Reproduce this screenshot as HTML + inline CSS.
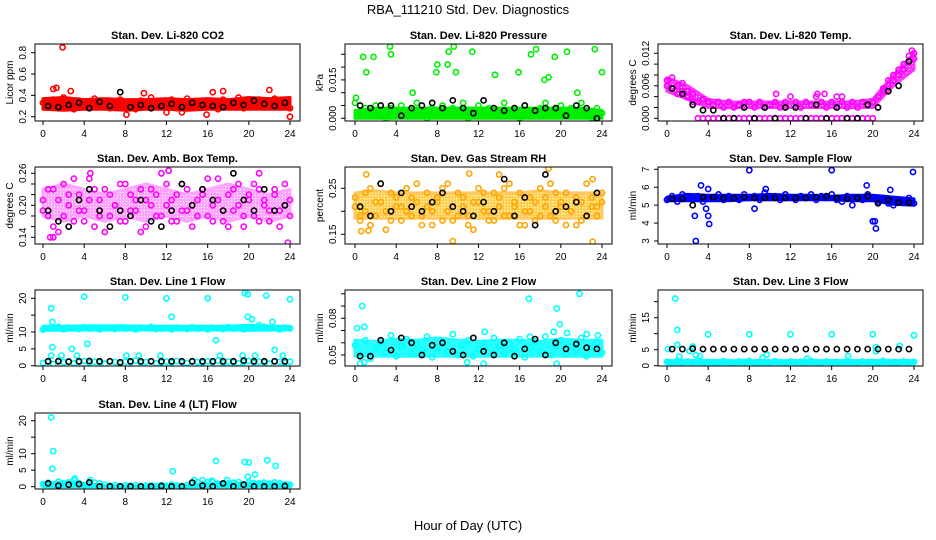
<!DOCTYPE html>
<html><head><meta charset="utf-8"><style>
html,body{margin:0;padding:0;background:#fff;width:936px;height:540px;overflow:hidden}
svg{display:block;font-family:"Liberation Sans",Arial,sans-serif}
</style></head><body>
<svg id="chart" width="936" height="540" viewBox="0 0 936 540" xmlns="http://www.w3.org/2000/svg">
<rect width="936" height="540" fill="#fff"/>
<text x="468" y="14" text-anchor="middle" font-size="13">RBA_111210  Std. Dev. Diagnostics</text>
<text x="468" y="530" text-anchor="middle" font-size="13">Hour of Day (UTC)</text>
</svg>
<script>
// ---- data ----
const xTickVals = [0,4,8,12,16,20,24];
const co2Pts = [0.33,0.30,0.36,0.28,0.38,0.31,0.27,0.35,0.33,0.29,0.37,0.30,0.34,0.28,0.32,0.36,0.30,0.33,0.27,0.35,0.31,0.38,0.29,0.34,0.30,0.36,0.28,0.33,0.37,0.30,0.32,0.29,0.35,0.31,0.27,0.36,0.33,0.30,0.38,0.28,0.34,0.31,0.36,0.29,0.33,0.37,0.30,0.35,0.28];
const co2Lo = [0.27,0.26,0.27,0.27,0.26,0.27,0.27,0.26,0.27,0.27,0.27,0.27,0.27];
const co2Hi = [0.37,0.38,0.36,0.37,0.36,0.36,0.37,0.36,0.37,0.36,0.38,0.37,0.38];
const co2Blk = [0.30,0.29,0.31,0.33,0.28,0.34,0.30,0.43,0.29,0.31,0.28,0.30,0.32,0.29,0.33,0.31,0.30,0.29,0.33,0.31,0.35,0.32,0.30,0.33];
const co2Out = [[1.9,0.85],[1.0,0.46],[1.3,0.47],[2.7,0.44],[8.1,0.22],[9.8,0.42],[12,0.24],[13.5,0.24],[15.9,0.22],[16.5,0.43],[17.5,0.44],[22,0.45],[24,0.20]];

const pressPts = [0.006,0.002,0.004,0.001,0.005,0.003,0.000,0.004,0.002,0.005,0.001,0.003,0.006,0.002,0.000,0.004,0.003,0.005,0.001,0.004,0.002,0.006,0.000,0.003,0.005,0.002,0.004,0.001,0.003,0.006,0.002,0.004,0.000,0.005,0.003,0.001,0.004,0.006,0.002,0.003,0.005,0.001,0.004,0.002,0.006,0.003,0.000,0.004,0.002];
const pressLo = [0,0,0,0,0,0,0,0,0,0,0,0,0];
const pressHi = [0.003,0.004,0.004,0.004,0.004,0.004,0.004,0.004,0.004,0.004,0.004,0.004,0.003];
const pressBlk = [0.005,0.004,0.005,0.005,0.001,0.004,0.005,0.006,0.004,0.007,0.004,0.002,0.007,0.004,0.003,0.004,0.005,0.003,0.004,0.004,0.001,0.005,0.004,0.000];
const pressOut = [[0.8,0.024],[1.1,0.018],[1.8,0.024],[3.4,0.028],[3.5,0.025],[7.9,0.018],[8.0,0.021],[9.1,0.026],[9.0,0.021],[9.6,0.028],[9.8,0.018],[11.4,0.026],[13.6,0.017],[15.9,0.018],[17.1,0.025],[17.6,0.027],[18.4,0.015],[18.8,0.016],[19.4,0.024],[20.6,0.026],[21.6,0.010],[23.3,0.027],[24,0.018],[0.1,0.008],[5.6,0.010]];

const tempPts = [0.007,0.0075,0.006,0.0065,0.005,0.0045,0.003,0.0035,0.003,0.0025,0.003,0.002,0.003,0.002,0.0025,0.003,0.003,0.002,0.003,0.002,0.0025,0.003,0.002,0.003,0.004,0.003,0.002,0.003,0.0025,0.004,0.003,0.002,0.003,0.004,0.003,0.002,0.003,0.002,0.003,0.0025,0.003,0.004,0.0055,0.007,0.008,0.009,0.010,0.0115,0.012];
const tempPts2 = [0.006,0.0055,0.0045,0.005,0.004,0.003,0,0,0,0,0,0,0,0,0,0,0,0,0,0,0,0,0,0,0,0,0,0,0,0,0,0,0,0,0,0,0,0,0,0,0,0.002,0.005,0.006,0.007,0.008,0.009,0.0105,0.011];
const tempLo = [0.005,0.0035,0.002,0.002,0.002,0.002,0.002,0.002,0.002,0.002,0.002,0.006,0.009];
const tempHi = [0.0075,0.006,0.0035,0.003,0.003,0.003,0.003,0.003,0.003,0.003,0.0035,0.008,0.012];
const tempBlk = [0.0055,0.0045,0.0025,0.0015,0.0015,0,0,0.002,0,0.002,0,0.002,0.002,0,0.0025,0,0.002,0,0,0.0025,0.002,0.005,0.006,0.0105];
const tempOut = [[10.6,0.0045],[14.6,0.0045],[15.3,0.0045],[17.0,0.004],[23.8,0.0125]];

const ambPts = [0.21,0.18,0.23,0.15,0.24,0.20,0.17,0.22,0.19,0.25,0.16,0.21,0.23,0.18,0.20,0.24,0.17,0.22,0.19,0.15,0.21,0.23,0.18,0.26,0.20,0.17,0.22,0.24,0.19,0.16,0.21,0.23,0.18,0.20,0.25,0.17,0.22,0.19,0.24,0.16,0.21,0.18,0.23,0.20,0.17,0.22,0.19,0.24,0.21];
const ambPts2 = [0.19,0.23,0.16,0.21,0.18,0.22,0.25,0.19,0.17,0.21,0.23,0.18,0.15,0.22,0.20,0.17,0.24,0.19,0.21,0.23,0.16,0.20,0.22,0.18,0.24,0.21,0.17,0.19,0.23,0.20,0.18,0.22,0.25,0.17,0.21,0.19,0.16,0.23,0.20,0.18,0.22,0.24,0.17,0.21,0.19,0.23,0.16,0.20,0.18];
const ambLo = [0.18,0.17,0.18,0.17,0.18,0.17,0.18,0.17,0.18,0.17,0.18,0.17,0.18];
const ambHi = [0.23,0.24,0.23,0.22,0.23,0.24,0.23,0.22,0.23,0.24,0.23,0.22,0.23];
const ambBlk = [0.19,0.17,0.16,0.21,0.23,0.19,0.16,0.19,0.18,0.21,0.17,0.16,0.19,0.24,0.20,0.23,0.21,0.19,0.26,0.21,0.19,0.23,0.19,0.20];
const ambOut = [[0.7,0.14],[1.0,0.14],[4.6,0.26],[12.2,0.265],[21,0.26],[23.8,0.13]];

const rhPts = [0.21,0.19,0.24,0.17,0.22,0.26,0.20,0.18,0.23,0.21,0.25,0.19,0.22,0.17,0.24,0.20,0.23,0.18,0.26,0.21,0.19,0.23,0.17,0.22,0.25,0.20,0.18,0.24,0.21,0.19,0.26,0.22,0.17,0.20,0.23,0.18,0.25,0.21,0.19,0.24,0.22,0.17,0.20,0.23,0.18,0.26,0.21,0.19,0.22];
const rhPts2 = [0.23,0.18,0.20,0.25,0.19,0.22,0.16,0.24,0.21,0.18,0.20,0.23,0.26,0.19,0.21,0.17,0.22,0.25,0.20,0.18,0.24,0.21,0.19,0.16,0.22,0.24,0.20,0.18,0.23,0.25,0.19,0.21,0.24,0.17,0.20,0.22,0.19,0.23,0.26,0.18,0.21,0.24,0.20,0.17,0.22,0.19,0.23,0.21,0.24];
const rhLo = [0.185,0.185,0.185,0.185,0.185,0.185,0.185,0.185,0.185,0.185,0.185,0.185,0.185];
const rhHi = [0.24,0.245,0.24,0.24,0.24,0.24,0.24,0.24,0.24,0.245,0.24,0.24,0.24];
const rhBlk = [0.21,0.19,0.26,0.20,0.24,0.21,0.20,0.22,0.24,0.21,0.20,0.19,0.22,0.20,0.27,0.19,0.23,0.17,0.28,0.20,0.21,0.22,0.19,0.24];
const rhOut = [[0.6,0.157],[1.1,0.28],[1.3,0.158],[9.5,0.135],[11.1,0.282],[18.8,0.293],[23.1,0.134],[23.1,0.27],[14.0,0.28]];

const flowPts = [5.3,5.5,5.2,5.6,5.4,5.3,5.5,5.2,4.4,5.4,5.6,5.3,5.5,5.4,5.3,5.6,5.4,5.5,5.3,5.7,5.4,5.5,5.3,5.6,5.4,5.3,5.5,5.4,5.6,5.3,5.5,5.4,5.6,5.3,5.2,5.5,5.0,5.4,5.3,5.6,4.1,5.2,5.4,5.1,5.0,5.3,5.2,5.4,5.1];
const flowLo = [5.25,5.25,5.25,5.25,5.3,5.3,5.3,5.3,5.3,5.25,5.25,5.05,5.0];
const flowHi = [5.45,5.6,5.55,5.55,5.55,5.6,5.55,5.55,5.5,5.55,5.55,5.45,5.35];
const flowBlk = [5.35,5.35,5.0,5.45,5.45,5.4,5.4,5.45,5.4,5.4,5.4,5.4,5.4,5.4,5.45,5.5,5.4,5.35,5.4,5.5,5.1,5.3,5.15,5.15];
const flowOut = [[2.8,3.0],[2.7,4.4],[3.3,6.1],[4.1,3.95],[8.0,6.95],[16.0,6.95],[23.9,6.85],[20.2,4.1],[20.3,3.7],[19.4,6.1],[21.7,5.85],[3.8,4.8],[8.5,4.8],[4,5.9],[9.6,5.9]];

const l1Pts = [10.7,11.2,11.0,11.5,10.8,11.3,11.1,10.9,11.4,11.0,11.2,10.8,11.3,11.1,10.9,11.4,11.0,11.2,10.8,11.3,11.1,11.5,10.9,11.0,11.2,10.8,11.3,11.1,10.9,11.4,11.0,11.2,10.8,11.3,11.1,10.9,11.4,11.0,11.2,10.8,11.3,11.1,12.0,11.5,11.0,11.2,10.8,11.3,11.1];
const l1Low = [0.8,1.2,0.5,1.5,1.0,1.3,0.7,1.1,1.4,0.9,1.2,1.0,0.6,1.3,1.1,0.8,1.2,1.0,1.5,0.9,1.1,1.3,0.7,1.0,1.2,0.9,1.4,1.0,0.8,1.2,1.1,0.9,1.3,1.0,1.5,0.8,1.2,1.0,0.7,1.1,1.4,0.9,1.2,1.0,0.6,1.3,1.1,0.8,1.2];
const l1Lo = [10.5,10.5,10.6,10.6,10.6,10.6,10.6,10.6,10.6,10.6,10.5,10.6,10.6];
const l1Hi = [11.7,11.7,11.8,11.8,11.8,11.7,11.7,11.7,11.7,11.7,12.0,11.7,11.7];
const l1Blk = [1.3,1.3,1.2,1.3,1.4,1.3,1.3,1.0,1.3,1.3,1.3,1.3,1.3,1.3,1.3,1.3,1.3,1.3,1.3,1.5,1.3,1.3,1.3,1.3];
const l1Out = [[0.8,17],[0.9,13],[0.9,5.5],[0.8,3],[1.8,3],[2.8,5],[3.3,3],[4,20.5],[4.3,6.5],[8,20.3],[8.1,3],[9.3,3],[11.4,3],[12,20],[12.5,14.5],[16,20],[16.8,7.5],[17.2,3],[19.4,3],[19.6,21.5],[19.9,21.2],[19.9,14.5],[20.3,13.8],[20.6,3],[21.7,20.8],[22.3,13],[22.5,4.7],[23.3,3],[24,19.7]];

const l2Pts = [0.058,0.050,0.062,0.047,0.055,0.060,0.052,0.066,0.049,0.057,0.063,0.051,0.059,0.054,0.065,0.048,0.056,0.061,0.053,0.067,0.050,0.058,0.062,0.049,0.055,0.060,0.052,0.064,0.057,0.051,0.059,0.054,0.063,0.048,0.056,0.061,0.053,0.065,0.050,0.058,0.062,0.051,0.057,0.054,0.064,0.049,0.056,0.060,0.052];
const l2Lo = [0.049,0.049,0.049,0.049,0.049,0.049,0.049,0.049,0.049,0.049,0.049,0.049,0.049];
const l2Hi = [0.062,0.061,0.063,0.062,0.064,0.062,0.061,0.062,0.062,0.061,0.063,0.062,0.062];
const l2Blk = [0.049,0.049,0.062,0.054,0.064,0.060,0.050,0.058,0.060,0.053,0.050,0.064,0.053,0.050,0.060,0.049,0.055,0.063,0.050,0.060,0.055,0.059,0.056,0.055];
const l2Out = [[0.2,0.072],[0.7,0.09],[0.9,0.073],[0.5,0.043],[0.9,0.044],[10.9,0.044],[12.5,0.043],[12.6,0.069],[16.9,0.096],[17,0.065],[19.3,0.069],[19.6,0.088],[19.6,0.043],[19.9,0.075],[20.6,0.068],[21.8,0.1],[22.5,0.067],[23.6,0.066]];

const l3Pts = [1.2,0.9,1.5,0.8,1.3,1.0,1.6,0.7,1.2,1.1,0.9,1.4,1.0,0.8,1.3,1.1,1.5,0.9,1.2,1.0,0.8,1.4,1.1,0.9,1.3,1.0,1.2,0.8,1.5,1.1,0.9,1.3,1.0,1.2,0.7,1.4,1.1,0.9,1.3,1.0,1.2,0.8,1.5,1.0,1.1,0.9,1.3,1.0,1.2];
const l3Lo = [0.6,0.6,0.6,0.6,0.6,0.6,0.6,0.6,0.6,0.6,0.6,0.6,0.6];
const l3Hi = [1.6,1.6,1.6,1.6,1.6,1.6,1.6,1.6,1.6,1.6,1.6,1.6,1.6];
const l3Blk = [5.2,5.2,5.3,5.2,5.2,5.2,5.2,5.2,5.2,5.2,5.2,5.2,5.2,5.2,5.2,5.2,5.2,5.2,5.2,5.2,5.2,5.2,5.2,5.2];
const l3Out = [[0.8,21],[1,11.2],[1,6.5],[1.2,2.8],[2.5,6],[2.8,3.3],[3.2,3],[4,9.8],[8,9.8],[9.3,2.5],[9.7,3.5],[12,9.8],[13.6,2.2],[16,9.8],[17.6,3],[20,9.8],[20.3,4.5],[20.3,5.8],[22.6,6.2],[24,9.5],[0.1,5.2],[2.2,4.6]];

const l4Pts = [0.8,1.2,0.5,1.5,1.0,1.3,2.0,1.1,0.4,0.9,1.2,1.0,0.6,0.3,0.5,0.2,0.4,0.3,0.5,0.2,0.3,0.4,0.2,0.5,0.3,0.6,0.4,0.2,0.5,1.2,1.4,0.8,1.3,1.5,0.9,0.7,1.0,1.2,1.4,0.8,1.3,1.1,1.0,1.2,0.9,1.3,1.1,0.8,0.6];
const l4Lo = [0,0,0,0,0,0,0,0,0,0,0,0,0];
const l4Hi = [1.2,1.3,1.0,0.4,0.3,0.3,0.4,0.4,1.0,1.0,1.1,1.1,0.8];
const l4Blk = [1.0,0.3,0.6,0.8,1.3,0.1,0.1,0.1,0.1,0.1,0.1,0.2,0.1,0.1,1.2,0.3,0.1,1.0,0.1,0.6,0.1,0.1,0.1,0.2];
const l4Out = [[0.8,21],[1,10.8],[0.9,5.5],[3.1,2.5],[4.6,2],[12.6,4.7],[14.7,2],[15.5,2],[16.4,1.8],[16.8,7.8],[17.9,2],[19.6,7.5],[20,7.3],[19.9,3],[20.6,3.7],[21.8,8],[22.6,6.3]];

// ---- rendering ----
const NS = 'http://www.w3.org/2000/svg';
const svg = document.getElementById('chart');
function mk(tag, attrs, parent){ const e=document.createElementNS(NS,tag); for(const k in attrs) e.setAttribute(k,attrs[k]); (parent||svg).appendChild(e); return e; }

const defs = mk('defs',{});
const pat = mk('pattern',{id:'dots',width:3,height:3,patternUnits:'userSpaceOnUse'},defs);
mk('rect',{width:3,height:3,fill:'#ffa500'},pat);
mk('rect',{width:1.5,height:1.5,fill:'#ffff00'},pat);
const pat2 = mk('pattern',{id:'pdots',width:3,height:3,patternUnits:'userSpaceOnUse'},defs);
mk('rect',{width:3,height:3,fill:'#ff00ff'},pat2);
mk('rect',{width:1,height:1,fill:'#ffffff'},pat2);

const COLS = [[35,300,43,290],[345,612,355,602],[658,923,667,914]];
const ROWS = [[44,121],[167,244],[290,366],[413,489]];

const panels = [
 {id:'co2', title:'Stan. Dev. Li-820 CO2', ylab:'Licor ppm', r:0,c:0, ymap:[0.2,116.7,0.8,52.7], ticks:[0.2,0.4,0.6,0.8], labels:['0.2','0.4','0.6','0.8'], col:'#ff0000', pts:[co2Pts], lo:co2Lo, hi:co2Hi, blk:co2Blk, out:co2Out, op:1},
 {id:'pressure', title:'Stan. Dev. Li-820 Pressure', ylab:'kPa', r:0,c:1, ymap:[0,118.3,0.025,54.3], ticks:[0,0.005,0.01,0.015,0.02,0.025], labels:['0.000','','','0.015','',''], col:'#00ee00', pts:[pressPts], lo:pressLo, hi:pressHi, blk:pressBlk, out:pressOut, op:1},
 {id:'temp', title:'Stan. Dev. Li-820 Temp.', ylab:'degrees C', r:0,c:2, ymap:[0,118.3,0.012,53.3], ticks:[0,0.002,0.004,0.006,0.008,0.01,0.012], labels:['0.000','','','0.006','','','0.012'], col:'#ff00ff', pts:[tempPts,tempPts2], lo:tempLo, hi:tempHi, blk:tempBlk, out:tempOut, op:0.8, fill:'url(#pdots)'},
 {id:'ambbox', title:'Stan. Dev. Amb. Box Temp.', ylab:'degrees C', r:1,c:0, ymap:[0.14,237.3,0.26,173.3], ticks:[0.14,0.16,0.18,0.2,0.22,0.24,0.26], labels:['0.14','','','0.20','','','0.26'], col:'#ff00ff', pts:[ambPts,ambPts2], lo:ambLo, hi:ambHi, blk:ambBlk, out:ambOut, op:0.35, fill:'url(#pdots)'},
 {id:'rh', title:'Stan. Dev. Gas Stream RH', ylab:'percent', r:1,c:1, ymap:[0.15,234.3,0.25,188.3], ticks:[0.15,0.2,0.25], labels:['0.15','','0.25'], col:'#ffa500', pts:[rhPts,rhPts2], lo:rhLo, hi:rhHi, blk:rhBlk, out:rhOut, op:0.6, fill:'url(#dots)'},
 {id:'sampleflow', title:'Stan. Dev. Sample Flow', ylab:'ml/min', r:1,c:2, ymap:[3,241,7,169.3], ticks:[3,4,5,6,7], labels:['3','4','5','6','7'], col:'#0000ff', pts:[flowPts], lo:flowLo, hi:flowHi, blk:flowBlk, out:flowOut, op:1},
 {id:'line1', title:'Stan. Dev. Line 1 Flow', ylab:'ml/min', r:2,c:0, ymap:[0,365.7,20,298.3], ticks:[0,5,10,15,20], labels:['0','5','10','','20'], col:'#00ffff', pts:[l1Pts,l1Low], lo:l1Lo, hi:l1Hi, blk:l1Blk, out:l1Out, op:1},
 {id:'line2', title:'Stan. Dev. Line 2 Flow', ylab:'ml/min', r:2,c:1, ymap:[0.05,355,0.08,318.3], ticks:[0.05,0.06,0.07,0.08,0.09,0.1], labels:['0.05','','','0.08','',''], col:'#00ffff', pts:[l2Pts], lo:l2Lo, hi:l2Hi, blk:l2Blk, out:l2Out, op:0.85},
 {id:'line3', title:'Stan. Dev. Line 3 Flow', ylab:'ml/min', r:2,c:2, ymap:[0,365.7,15,317.7], ticks:[0,5,10,15,20], labels:['0','5','','15',''], col:'#00ffff', pts:[l3Pts], lo:l3Lo, hi:l3Hi, blk:l3Blk, out:l3Out, op:1},
 {id:'line4', title:'Stan. Dev. Line 4 (LT) Flow', ylab:'ml/min', r:3,c:0, ymap:[0,486.7,20,420.7], ticks:[0,5,10,15,20], labels:['0','5','10','','20'], col:'#00ffff', pts:[l4Pts], lo:l4Lo, hi:l4Hi, blk:l4Blk, out:l4Out, op:1}
];

panels.forEach(p=>{
  const [L,R,x0,x24] = COLS[p.c];
  const [T,B] = ROWS[p.r];
  const xs = h => x0 + (x24-x0)*h/24;
  const [v1,py1,v2,py2] = p.ymap;
  const ys = v => py1 + (py2-py1)*(v-v1)/(v2-v1);
  const g = mk('g',{});
  
  
  const clipId='clip-'+p.id;
  const cp = mk('clipPath',{id:clipId},g); mk('rect',{x:L,y:T,width:R-L,height:B-T},cp);
  const marks = mk('g',{'clip-path':'url(#'+clipId+')'},g);
  
  
  let d='';
  p.hi.forEach((v,i)=>{ d += (i?'L':'M')+xs(i*2).toFixed(1)+','+ys(v).toFixed(1); });
  for(let i=p.lo.length-1;i>=0;i--) d+='L'+xs(i*2).toFixed(1)+','+ys(p.lo[i]).toFixed(1);
  const band = mk('path',{d:d+'Z',fill:p.fill||p.col,stroke:p.col,'stroke-width':3,'stroke-linejoin':'round',opacity:p.op},marks);
  
  
  const circ=(x,y,col,name)=>{
    const c = mk('circle',{cx:x.toFixed(1),cy:y.toFixed(1),r:2.6,fill:'none',stroke:col,'stroke-width':1.6},marks);
    
    
  };
  p.pts.forEach(arr=>arr.forEach((v,i)=>circ(xs(i*0.5),ys(v),p.col,'point-'+p.id)));
  p.out.forEach(o=>circ(xs(o[0]),ys(o[1]),p.col,'outlier-'+p.id));
  p.blk.forEach((v,i)=>circ(xs(i+0.5),ys(v),'#000','hourly-point-'+p.id));
  const box = mk('rect',{x:L,y:T,width:R-L,height:B-T,fill:'none',stroke:'#000','stroke-width':1},g);
  
  
  const t = mk('text',{x:(L+R)/2,y:T-5,'text-anchor':'middle','font-size':11,'font-weight':'bold'},g);
  t.textContent=p.title;
  
  
  const xa = mk('g',{},g);
  
  
  mk('line',{x1:xs(0),x2:xs(24),y1:B,y2:B,stroke:'#000'},xa);
  xTickVals.forEach(v=>{
    mk('line',{x1:xs(v),x2:xs(v),y1:B,y2:B+4,stroke:'#000'},xa);
    const tl = mk('text',{x:xs(v),y:B+16,'text-anchor':'middle','font-size':10},xa);
    tl.textContent=v;
  });
  const ya = mk('g',{},g);
  
  
  const ty = p.ticks.map(ys);
  mk('line',{x1:L,x2:L,y1:Math.min(...ty),y2:Math.max(...ty),stroke:'#000'},ya);
  p.ticks.forEach((v,i)=>{
    mk('line',{x1:L-4,x2:L,y1:ys(v),y2:ys(v),stroke:'#000'},ya);
    if(p.labels[i]){
      const yl = mk('text',{x:0,y:0,'text-anchor':'middle','font-size':10,transform:'translate('+(L-9)+','+ys(v).toFixed(1)+') rotate(-90)'},ya);
      yl.textContent=p.labels[i];
    }
  });
  const yt = mk('text',{'text-anchor':'middle','font-size':10,transform:'translate('+(L-22)+','+((T+B)/2)+') rotate(-90)'},g);
  yt.textContent=p.ylab;
  
  
});
</script>
</body></html>
